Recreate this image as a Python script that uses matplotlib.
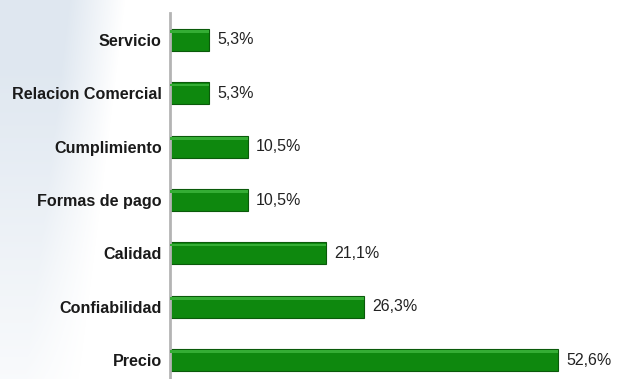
import numpy as np
import matplotlib
matplotlib.use("Agg")
import matplotlib.pyplot as plt

# ---- datos ----
categorias = ["Servicio", "Relacion Comercial", "Cumplimiento", "Formas de pago",
              "Calidad", "Confiabilidad", "Precio"]
porcentajes = [5.3, 5.3, 10.5, 10.5, 21.1, 26.3, 52.6]
etiquetas = ["5,3%", "5,3%", "10,5%", "10,5%", "21,1%", "26,3%", "52,6%"]

plt.rcParams["font.family"] = ["Liberation Sans", "DejaVu Sans"]

fig = plt.figure(figsize=(6.17, 3.79), dpi=100)
fig.patch.set_facecolor("white")

# fondo: mancha gris azulada suave a la izquierda
bg = fig.add_axes([0, 0, 1, 1], zorder=0)
bg.set_axis_off()
h, w = 379, 617
yy, xx = np.mgrid[0:h, 0:w]
borde = 125 - 0.12 * yy
alpha = np.clip((borde - xx) / 55.0, 0, 1) * np.clip(1.2 - yy / 379.0, 0, 1)
img = np.ones((h, w, 4))
img[..., 0] = 0.85
img[..., 1] = 0.89
img[..., 2] = 0.93
img[..., 3] = alpha * 0.8
bg.imshow(img, extent=(0, w, h, 0), aspect="auto")
bg.set_xlim(0, w)
bg.set_ylim(h, 0)

ax = fig.add_axes([170 / 617, 0, 443 / 617, 1 - 13 / 379], zorder=1)
ax.patch.set_alpha(0)

pos = np.arange(len(categorias))
alto = 0.41
ax.barh(pos, porcentajes, height=alto, color="#0e880e", edgecolor="#0a5a0a",
        linewidth=0.8, zorder=2)
# brillo superior de las barras
ax.barh(pos - alto * 0.38, porcentajes, height=alto * 0.12, color="#34ad34",
        linewidth=0, zorder=3)

for p, v, t in zip(pos, porcentajes, etiquetas):
    ax.annotate(t, xy=(v, p), xytext=(6, 0), textcoords="offset points",
                va="center", ha="left", fontsize=11.5, color="#222222")

ax.set_xlim(0, 60)
ax.set_ylim(6.356, -0.506)
ax.set_yticks(pos)
ax.set_yticklabels(categorias, fontsize=11.6, fontweight="bold", color="#1a1a1a")
ax.tick_params(axis="y", length=0, pad=6)
ax.set_xticks([])
for lado in ["top", "right", "bottom"]:
    ax.spines[lado].set_visible(False)
ax.spines["left"].set_color("#b4b4b4")
ax.spines["left"].set_linewidth(2)

fig.savefig("out.png", dpi=100, facecolor="white")
